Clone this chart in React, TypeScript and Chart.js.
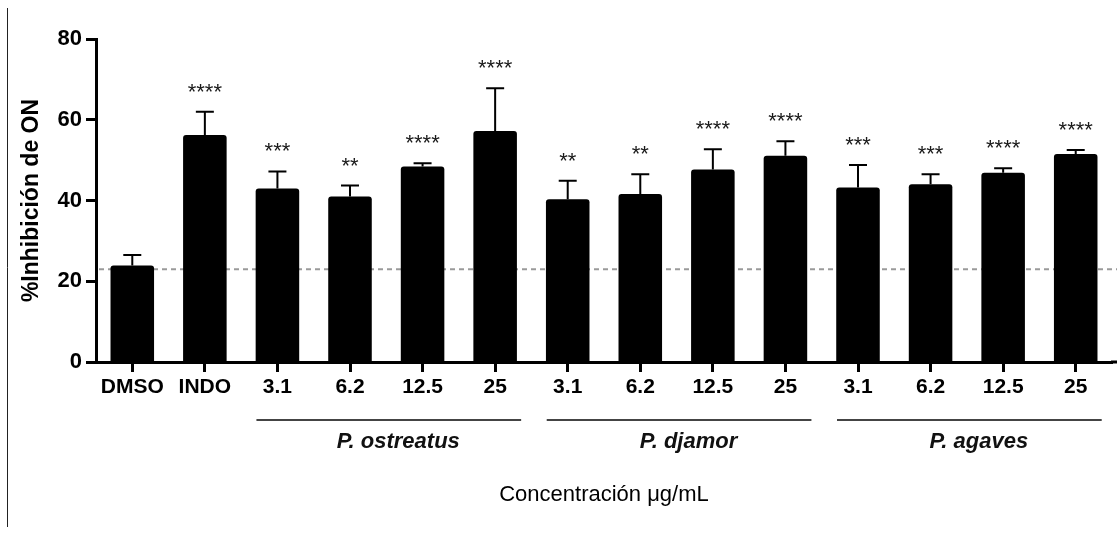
import React, { useEffect, useRef } from 'react';
import { Chart, registerables } from 'chart.js';

Chart.register(...registerables);

const categories = ['DMSO', 'INDO', '3.1', '6.2', '12.5', '25', '3.1', '6.2', '12.5', '25', '3.1', '6.2', '12.5', '25'];
const means = [23.9, 56.2, 43.0, 41.0, 48.4, 57.2, 40.3, 41.6, 47.7, 51.1, 43.2, 44.0, 46.9, 51.5];
const sems = [2.6, 5.8, 4.2, 2.7, 0.8, 10.6, 4.6, 4.9, 5.0, 3.6, 5.6, 2.5, 1.1, 1.0];
const significance = ['', '****', '***', '**', '****', '****', '**', '**', '****', '****', '***', '***', '****', '****'];
const groupLabels = ['P. ostreatus', 'P. djamor', 'P. agaves'];
const groupStart = [2, 6, 10];
const groupEnd = [5, 9, 13];
const controlLevel = 23.0;
const yMin = 0;
const yMax = 80;
const yStep = 20;

const FONT = '"Liberation Sans", Arial, Helvetica, sans-serif';

const overlayPlugin = {
  id: 'overlay',
  beforeDatasetsDraw(chart: any) {
    const { ctx, chartArea, scales } = chart;
    const y = scales.y.getPixelForValue(controlLevel);
    ctx.save();
    ctx.strokeStyle = '#9a9a9a';
    ctx.lineWidth = 2;
    ctx.setLineDash([5, 4]);
    ctx.beginPath();
    ctx.moveTo(chartArea.left + 3, y);
    ctx.lineTo(chart.width, y);
    ctx.stroke();
    ctx.restore();
  },
  afterDraw(chart: any) {
    const { ctx, chartArea, scales } = chart;
    const xs = scales.x;
    const ys = scales.y;
    ctx.save();
    // extend x axis line to the right edge
    ctx.strokeStyle = '#000';
    ctx.lineWidth = 3;
    ctx.beginPath();
    ctx.moveTo(chartArea.right - 1, chartArea.bottom);
    ctx.lineTo(chart.width, chartArea.bottom);
    ctx.stroke();

    // error bars + significance
    for (let i = 0; i < means.length; i++) {
      const x = xs.getPixelForValue(i);
      const y0 = ys.getPixelForValue(means[i]);
      const y1 = ys.getPixelForValue(means[i] + sems[i]);
      ctx.strokeStyle = '#000';
      ctx.lineWidth = 2;
      ctx.beginPath();
      ctx.moveTo(x, y0);
      ctx.lineTo(x, y1);
      ctx.moveTo(x - 9, y1);
      ctx.lineTo(x + 9, y1);
      ctx.stroke();
      if (significance[i]) {
        ctx.fillStyle = '#1a1a1a';
        ctx.font = `22px ${FONT}`;
        ctx.textAlign = 'center';
        ctx.textBaseline = 'middle';
        ctx.fillText(significance[i], x, y1 - 19);
      }
    }

    // group lines and labels
    for (let g = 0; g < groupLabels.length; g++) {
      const xa = xs.getPixelForValue(groupStart[g]) - 21;
      const xb = xs.getPixelForValue(groupEnd[g]) + 26;
      const ly = chartArea.bottom + 58;
      ctx.strokeStyle = '#444';
      ctx.lineWidth = 2;
      ctx.beginPath();
      ctx.moveTo(xa, ly);
      ctx.lineTo(xb, ly);
      ctx.stroke();
      ctx.fillStyle = '#111';
      ctx.font = `italic bold 22px ${FONT}`;
      ctx.textAlign = 'center';
      ctx.textBaseline = 'middle';
      const mid = (xs.getPixelForValue(groupStart[g]) + xs.getPixelForValue(groupEnd[g])) / 2;
      ctx.fillText(groupLabels[g], mid + 12, ly + 22);
    }

    // frame line on the left side
    ctx.strokeStyle = '#222';
    ctx.lineWidth = 1;
    ctx.beginPath();
    ctx.moveTo(7.5, 8);
    ctx.lineTo(7.5, 527);
    ctx.stroke();
    ctx.restore();
  },
};

export default function App() {
  const canvasRef = useRef<HTMLCanvasElement | null>(null);

  useEffect(() => {
    document.body.style.margin = '0';
    const canvas = canvasRef.current;
    if (!canvas) return;
    const chart = new Chart(canvas, {
      type: 'bar',
      data: {
        labels: categories,
        datasets: [
          {
            data: means,
            backgroundColor: '#000',
            borderWidth: 0,
            borderRadius: 3,
            barPercentage: 0.6,
            categoryPercentage: 1.0,
          },
        ],
      },
      options: {
        animation: false,
        responsive: true,
        maintainAspectRatio: false,
        layout: { padding: { top: 39, right: 5, left: 0, bottom: 0 } },
        plugins: {
          legend: { display: false },
          tooltip: { enabled: false },
        },
        scales: {
          x: {
            offset: true,
            grid: {
              offset: false,
              drawOnChartArea: false,
              drawTicks: true,
              tickLength: 10,
              tickWidth: 3,
              tickColor: '#000',
            },
            border: { display: true, width: 3, color: '#000' },
            ticks: {
              autoSkip: false,
              maxRotation: 0,
              color: '#000',
              padding: 3,
              font: { family: FONT, size: 21, weight: 'bold' },
            },
            title: {
              display: true,
              text: 'Concentración μg/mL',
              color: '#000',
              font: { family: FONT, size: 22, weight: 'normal' },
              padding: { top: 0, bottom: 25 },
            },
            afterFit: (s: any) => {
              s.height = 171;
            },
          },
          y: {
            min: yMin,
            max: yMax,
            grid: {
              drawOnChartArea: false,
              drawTicks: true,
              tickLength: 10,
              tickWidth: 3,
              tickColor: '#000',
            },
            border: { display: true, width: 3, color: '#000' },
            ticks: {
              stepSize: yStep,
              color: '#000',
              padding: 4,
              font: { family: FONT, size: 22, weight: 'bold' },
            },
            title: {
              display: true,
              text: '%Inhibición de ON',
              color: '#000',
              font: { family: FONT, size: 23, weight: 'bold' },
              padding: { top: 18, bottom: 0 },
            },
            afterFit: (s: any) => {
              s.width = 96;
            },
          },
        },
      },
      plugins: [overlayPlugin],
    });
    return () => chart.destroy();
  }, []);

  return (
    <div style={{ position: 'relative', width: 1117, height: 533 }}>
      <canvas ref={canvasRef} />
    </div>
  );
}
